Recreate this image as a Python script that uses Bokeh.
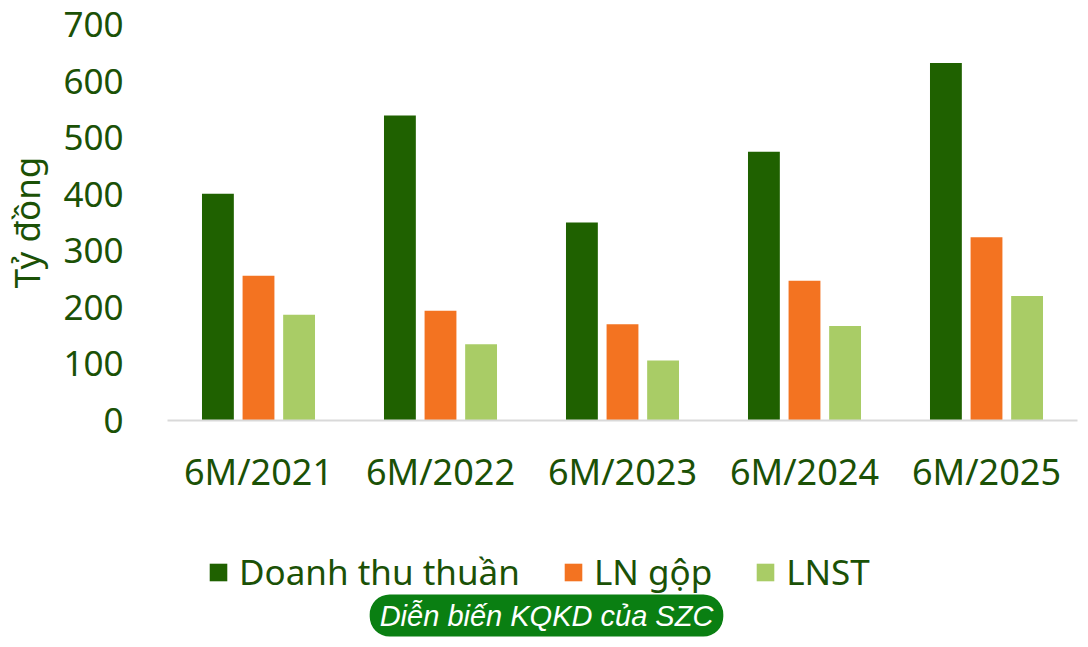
from bokeh.plotting import figure
from bokeh.models import FactorRange, Range1d, Legend, LegendItem, Label, SingleIntervalTicker, ColumnDataSource
from bokeh.layouts import column
from bokeh.transform import dodge
from bokeh.embed import file_html
from bokeh.resources import INLINE

periods = ["6M/2021", "6M/2022", "6M/2023", "6M/2024", "6M/2025"]
doanh_thu = [401, 539, 350, 475, 632]
ln_gop = [256, 194, 170, 247, 324]
lnst = [187, 135, 106, 167, 220]
series_names = ["Doanh thu thuần", "LN gộp", "LNST"]
colors = ["#1f6100", "#f37321", "#a9cc66"]
y_label = "Tỷ đồng"
caption = "Diễn biến KQKD của SZC"

TXT = "#1b5106"
FONT = "Noto Sans"

src = ColumnDataSource(dict(period=periods, dt=doanh_thu, gop=ln_gop, lnst=lnst))
cols = ["dt", "gop", "lnst"]
offsets = [-0.223, 0.0, 0.223]

# ---- main chart ----
p = figure(width=1080, height=510, x_range=FactorRange(*periods), y_range=Range1d(0, 700),
           output_backend="svg", toolbar_location=None,
           min_border_left=165, min_border_right=3, min_border_top=24, min_border_bottom=90)
p.outline_line_color = None
p.grid.visible = False

for col, off, c in zip(cols, offsets, colors):
    p.vbar(x=dodge("period", off, range=p.x_range), top=col, width=0.175, source=src,
           fill_color=c, line_color=None)

p.yaxis.ticker = SingleIntervalTicker(interval=100)
p.yaxis.axis_line_color = None
p.yaxis.major_tick_line_color = None
p.yaxis.minor_tick_line_color = None
p.yaxis.major_tick_out = 0
p.yaxis.major_label_standoff = 40
p.yaxis.major_label_text_font = FONT
p.yaxis.major_label_text_font_size = "35px"
p.yaxis.major_label_text_color = TXT
p.yaxis.axis_label = y_label
p.yaxis.axis_label_text_font = FONT
p.yaxis.axis_label_text_font_style = "normal"
p.yaxis.axis_label_text_font_size = "35px"
p.yaxis.axis_label_text_color = TXT
p.yaxis.axis_label_standoff = 10

p.xaxis.axis_line_color = "#d9d9d9"
p.xaxis.axis_line_width = 2
p.xaxis.major_tick_line_color = None
p.xaxis.minor_tick_line_color = None
p.xaxis.major_tick_out = 0
p.xaxis.major_label_standoff = 26
p.xaxis.major_label_text_font = FONT
p.xaxis.major_label_text_font_size = "36px"
p.xaxis.major_label_text_color = TXT

# ---- legend + caption strip ----
q = figure(width=1080, height=130, x_range=FactorRange(*periods), y_range=Range1d(0, 700),
           output_backend="svg", toolbar_location=None,
           min_border_left=0, min_border_right=0, min_border_top=0, min_border_bottom=0)
q.outline_line_color = None
q.grid.visible = False
q.axis.visible = False

proxies = []
for col, off, c in zip(cols, offsets, colors):
    r = q.vbar(x=dodge("period", off, range=q.x_range), top=col, width=0.175, source=src,
               fill_color=c, line_color=None, visible=False)
    proxies.append(r)

legend = Legend(items=[LegendItem(label=n, renderers=[r]) for n, r in zip(series_names, proxies)],
                orientation="horizontal", location=(40, 45),
                glyph_width=22, glyph_height=22, label_standoff=10, spacing=42,
                padding=0, margin=0, border_line_color=None, background_fill_alpha=0,
                label_text_font=FONT, label_text_font_size="35px", label_text_color=TXT,
                label_height=22)
q.add_layout(legend, "center")

cap = Label(x=379, y=25, x_units="screen", y_units="screen", text=caption,
            text_align="center", text_baseline="middle",
            text_font="Liberation Sans", text_font_style="italic", text_font_size="29px",
            text_color="white", background_fill_color="#0a7f12",
            border_radius=20, padding=(10, 5))
q.add_layout(cap)

layout = column(p, q, spacing=0)
open("out.html", "w").write(file_html(layout, INLINE))
